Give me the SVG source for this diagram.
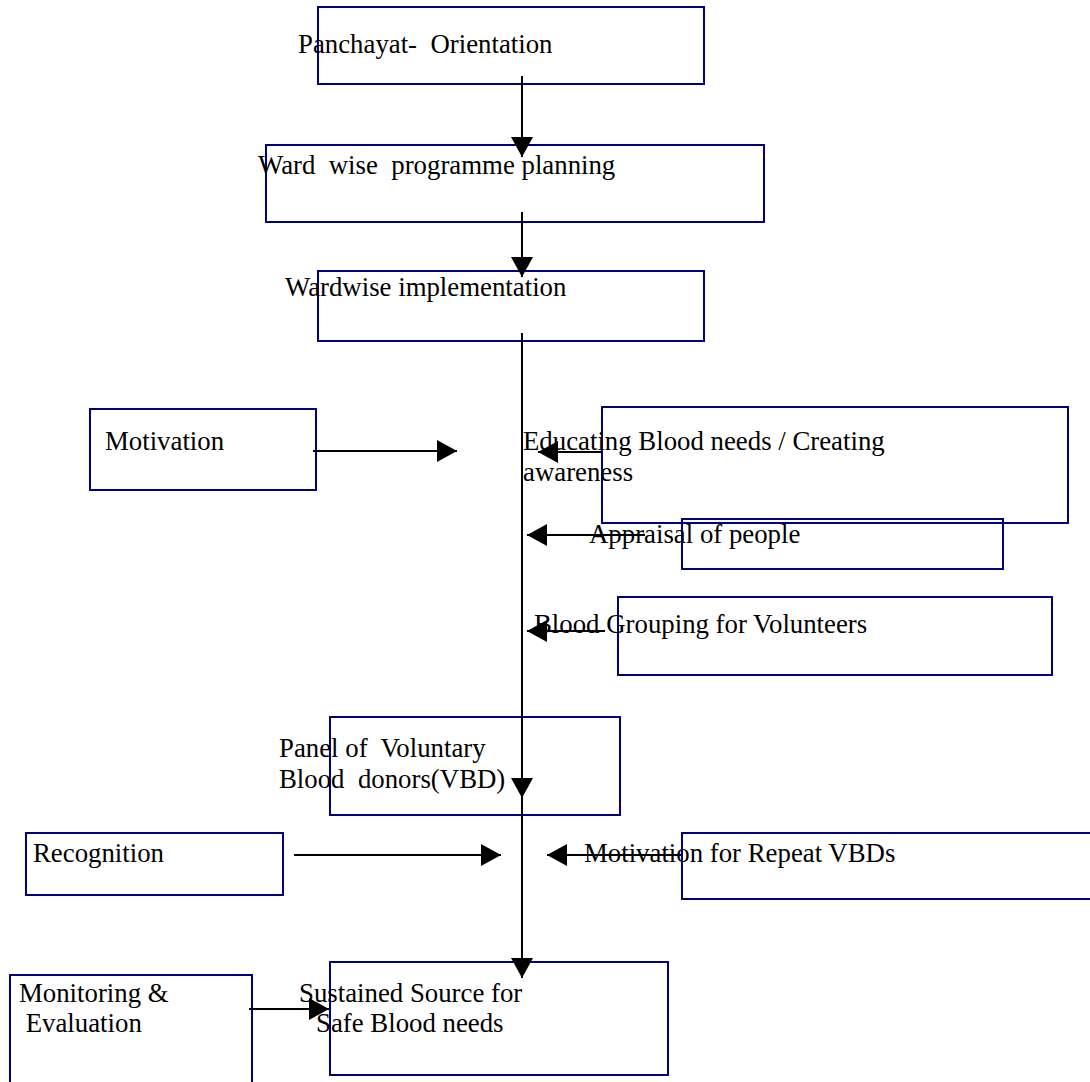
<svg xmlns="http://www.w3.org/2000/svg" width="1090" height="1082" viewBox="0 0 1090 1082">
<defs>
<style>
.box{fill:none;stroke:#000080;stroke-width:2}
.t{font-family:"Liberation Serif","Times New Roman",serif;font-size:26.8px;fill:#000}
.c{fill:none;stroke:#000;stroke-width:2}
</style>
<marker id="ah" viewBox="0 0 20 22" refX="20" refY="11" markerWidth="20" markerHeight="22" markerUnits="userSpaceOnUse" orient="auto">
<path d="M0,0 L20,11 L0,22 Z" fill="#000"/>
</marker>
</defs>
<rect width="1090" height="1082" fill="#fff"/>
<g id="n-panchayat"><rect class="box" x="318" y="7" width="386" height="77"/><text class="t" x="298" y="53" xml:space="preserve">Panchayat-  Orientation</text></g>
<g id="n-wardplan"><rect class="box" x="266" y="145" width="498" height="77"/><text class="t" x="258" y="174" xml:space="preserve">Ward  wise  programme planning</text></g>
<g id="n-wardimpl"><rect class="box" x="318" y="271" width="386" height="70"/><text class="t" x="285" y="296">Wardwise implementation</text></g>
<g id="n-motivation"><rect class="box" x="90" y="409" width="226" height="81"/><text class="t" x="105" y="450">Motivation</text></g>
<g id="n-educating"><rect class="box" x="602" y="407" width="466" height="116"/><text class="t" x="523" y="450">Educating Blood needs / Creating</text><text class="t" x="523" y="481">awareness</text></g>
<g id="n-appraisal"><rect class="box" x="682" y="519" width="321" height="50"/><text class="t" x="589" y="543">Appraisal of people</text></g>
<g id="n-grouping"><rect class="box" x="618" y="597" width="434" height="78"/><text class="t" x="534" y="633">Blood Grouping for Volunteers</text></g>
<g id="n-panel"><rect class="box" x="330" y="717" width="290" height="98"/><text class="t" x="279" y="757" xml:space="preserve">Panel of  Voluntary</text><text class="t" x="279" y="788" xml:space="preserve">Blood  donors(VBD)</text></g>
<g id="n-recognition"><rect class="box" x="26" y="833" width="257" height="62"/><text class="t" x="33" y="862">Recognition</text></g>
<g id="n-repeat"><rect class="box" x="682" y="833" width="420" height="66"/><text class="t" x="584" y="862">Motivation for Repeat VBDs</text></g>
<g id="n-monitoring"><rect class="box" x="10" y="975" width="242" height="120"/><text class="t" x="19" y="1002">Monitoring &amp;</text><text class="t" x="19" y="1032" xml:space="preserve"> Evaluation</text></g>
<g id="n-sustained"><rect class="box" x="330" y="962" width="338" height="113"/><text class="t" x="299" y="1002">Sustained Source for</text><text class="t" x="316" y="1032">Safe Blood needs</text></g>
<g id="connectors">
<path class="c" d="M522,76 V157" marker-end="url(#ah)"/>
<path class="c" d="M522,212 V277" marker-end="url(#ah)"/>
<path class="c" d="M522,333 V798" marker-end="url(#ah)"/>
<path class="c" d="M522,798 V978" marker-end="url(#ah)"/>
<path class="c" d="M313,451 H457" marker-end="url(#ah)"/>
<path class="c" d="M602,452 H538" marker-end="url(#ah)"/>
<path class="c" d="M645,535 H527" marker-end="url(#ah)"/>
<path class="c" d="M605,631 H527" marker-end="url(#ah)"/>
<path class="c" d="M294,855 H501" marker-end="url(#ah)"/>
<path class="c" d="M682,855 H547" marker-end="url(#ah)"/>
<path class="c" d="M249,1009 H329" marker-end="url(#ah)"/>
</g>
</svg>
